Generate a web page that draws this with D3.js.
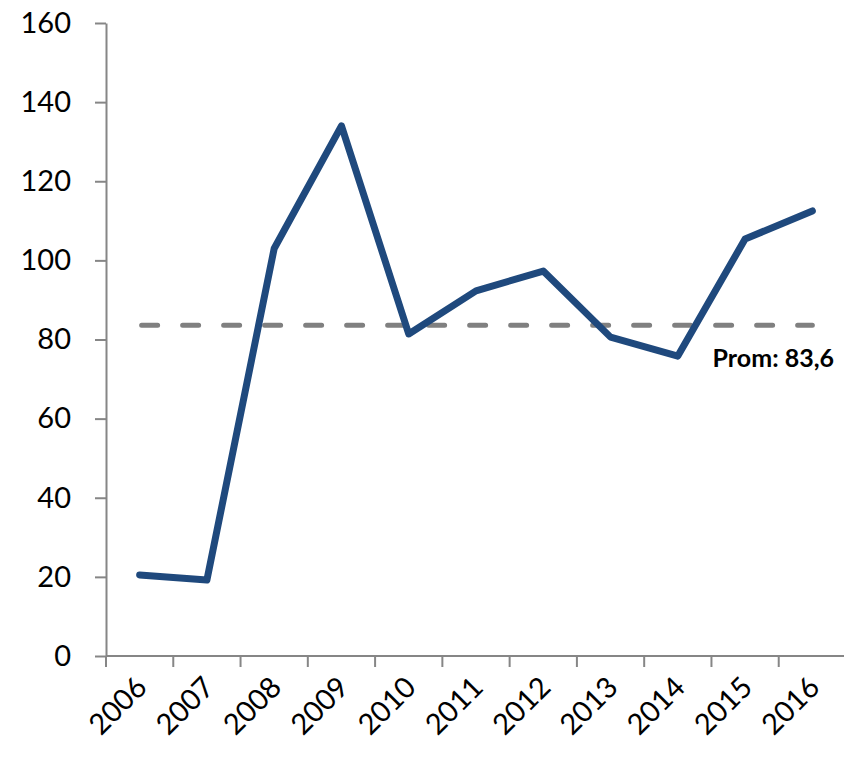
<!DOCTYPE html>
<html>
<head>
<meta charset="utf-8">
<script src="https://cdn.jsdelivr.net/npm/d3@7"></script>
<style>
  body { margin: 0; background: #fff; }
  svg { display: block; font-family: Lato, "Open Sans", sans-serif; }
</style>
</head>
<body>
<svg width="844" height="760"></svg>
<script>
// data
var years = ["2006", "2007", "2008", "2009", "2010", "2011", "2012", "2013", "2014", "2015", "2016"];
var values = [20.5, 19.2, 103, 134, 81.4, 92.3, 97.3, 80.6, 75.8, 105.4, 112.5];
var average = 83.6;
var avgLabel = "Prom: 83,6";
var yTicks = [0, 20, 40, 60, 80, 100, 120, 140, 160];

var svg = d3.select("svg");

var x = d3.scaleBand().domain(years).range([106, 846]).padding(0);
var y = d3.scaleLinear().domain([0, 160]).range([656, 23]);

// y axis
var yAxis = svg.append("g")
    .attr("transform", "translate(106,0)")
    .call(d3.axisLeft(y).tickValues(yTicks).tickSize(11).tickPadding(24).tickSizeOuter(0));
yAxis.select(".domain").attr("stroke", "#868686").attr("stroke-width", 2);
yAxis.selectAll(".tick line").attr("stroke", "#868686").attr("stroke-width", 2);
yAxis.selectAll(".tick text")
    .attr("font-size", 29)
    .attr("font-family", "Lato, sans-serif")
    .attr("fill", "#000");

// x axis: ticks on band edges
var edges = years.map(function (d) { return x(d); });
var xg = svg.append("g");
xg.append("line")
    .attr("x1", 106).attr("x2", 846)
    .attr("y1", y(0)).attr("y2", y(0))
    .attr("stroke", "#868686").attr("stroke-width", 2);
xg.selectAll("line.tk")
    .data(edges)
    .enter().append("line")
    .attr("class", "tk")
    .attr("x1", function (d) { return d; }).attr("x2", function (d) { return d; })
    .attr("y1", y(0)).attr("y2", y(0) + 11)
    .attr("stroke", "#868686").attr("stroke-width", 2);
xg.selectAll("text")
    .data(years)
    .enter().append("text")
    .attr("transform", function (d) {
        return "translate(" + (x(d) + x.bandwidth() / 2 + 9) + "," + (y(0) + 33) + ") rotate(-45)";
    })
    .attr("text-anchor", "end")
    .attr("font-size", 29)
    .attr("fill", "#000")
    .text(function (d) { return d; });

// average dashed line
var cx = function (d) { return x(d) + x.bandwidth() / 2; };
svg.append("line")
    .attr("x1", cx(years[0]) + 2)
    .attr("x2", cx(years[years.length - 1]))
    .attr("y1", y(average)).attr("y2", y(average))
    .attr("stroke", "#808080")
    .attr("stroke-width", 5)
    .attr("stroke-linecap", "round")
    .attr("stroke-dasharray", "16,25");

// series line
var line = d3.line()
    .x(function (d, i) { return cx(years[i]); })
    .y(function (d) { return y(d); });
svg.append("path")
    .datum(values)
    .attr("d", line)
    .attr("fill", "none")
    .attr("stroke", "#1F497D")
    .attr("stroke-width", 7)
    .attr("stroke-linejoin", "round")
    .attr("stroke-linecap", "round");

// average label
svg.append("text")
    .attr("x", 834)
    .attr("y", y(average) + 42)
    .attr("text-anchor", "end")
    .attr("font-size", 25)
    .attr("font-weight", "bold")
    .attr("fill", "#000")
    .text(avgLabel);
</script>
</body>
</html>
